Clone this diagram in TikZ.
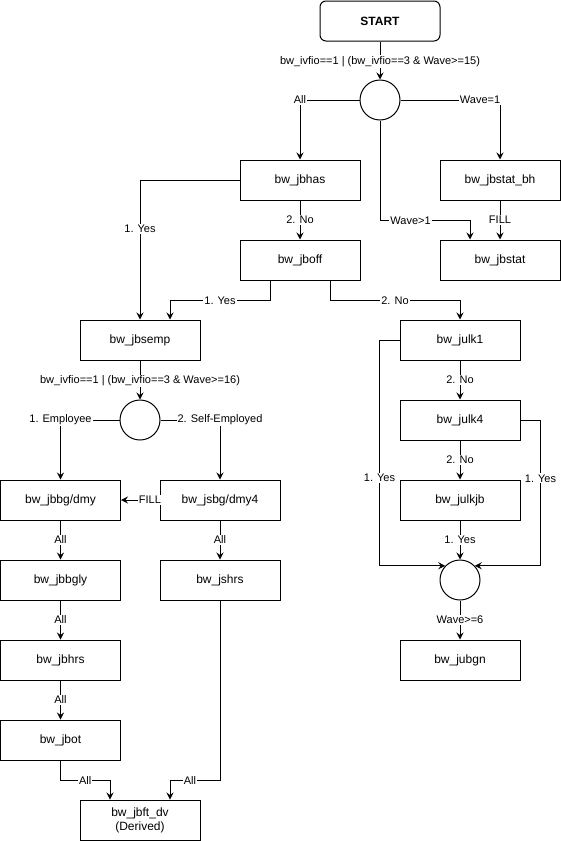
\documentclass[tikz,border=0pt]{standalone}
\usepackage{fontspec}
\setmainfont{Liberation Sans}
\usetikzlibrary{arrows.meta}

\begin{document}
\begin{tikzpicture}[x=1pt,y=-1pt,
  line width=1pt,
  box/.style={draw,rectangle,minimum width=120pt,minimum height=40pt,inner sep=2pt,
    align=center,font=\fontsize{12}{14}\selectfont},
  startbox/.style={box,rounded corners=6pt,font=\fontsize{12}{14}\selectfont\bfseries},
  junction/.style={draw,circle,minimum size=40pt,inner sep=0pt},
  lbl/.style={fill=white,inner sep=1pt,font=\fontsize{11}{13}\selectfont},
  flow/.style={-{Stealth[length=7pt,width=7pt,inset=2.5pt]}}
]
\useasboundingbox (0,0) rectangle (561,841);

% decision nodes and junctions
\node[startbox] (start) at (380,21) {START};
\node[junction] (c1) at (380,100) {};
\node[box] (jbhas) at (300,180) {bw\_jbhas};
\node[box] (jbstatbh) at (500,180) {bw\_jbstat\_bh};
\node[box] (jboff) at (300,260) {bw\_jboff};
\node[box] (jbstat) at (500,260) {bw\_jbstat};
\node[box] (jbsemp) at (140,340) {bw\_jbsemp};
\node[junction] (c2) at (140,420) {};
\node[box] (jbbg) at (60.5,500) {bw\_jbbg/dmy};
\node[box] (jsbg) at (220,500) {bw\_jsbg/dmy4};
\node[box] (jbbgly) at (60.5,580) {bw\_jbbgly};
\node[box] (jshrs) at (220,580) {bw\_jshrs};
\node[box] (jbhrs) at (60.5,660) {bw\_jbhrs};
\node[box] (jbot) at (60.5,740) {bw\_jbot};
\node[box] (jbft) at (140,820) {bw\_jbft\_dv\\(Derived)};
\node[box] (julk1) at (460,340) {bw\_julk1};
\node[box] (julk4) at (460,420) {bw\_julk4};
\node[box] (julkjb) at (460,500) {bw\_julkjb};
\node[junction] (c3) at (460,580) {};
\node[box] (jubgn) at (460,660) {bw\_jubgn};

% top branch
\draw[flow] (start.south) -- node[lbl,pos=0.53] {bw\_ivfio==1 | (bw\_ivfio==3 \& Wave>=15)} (c1.north);
\draw[flow] (c1.west) -| node[lbl,pos=0.5] {All} (jbhas.north);
\draw[flow] (c1.east) -| node[lbl,pos=0.4] {Wave=1} (jbstatbh.north);
\draw[flow] (c1.south) -- ++(0,100) -| node[lbl,pos=0.17] {Wave>1} ([xshift=-30pt]jbstat.north);
\draw[flow] (jbstatbh.south) -- node[lbl] {FILL} (jbstat.north);
\draw[flow] (jbhas.south) -- node[lbl] {2. No} (jboff.north);
\draw[flow] (jbhas.west) -| node[lbl,pos=0.675] {1. Yes} (jbsemp.north);
\draw[flow] ([xshift=-30pt]jboff.south) -- ++(0,20) -| node[lbl,pos=0.25] {1. Yes} ([xshift=30pt]jbsemp.north);
\draw[flow] ([xshift=30pt]jboff.south) -- ++(0,20) -| node[lbl,pos=0.25] {2. No} (julk1.north);

% employment branch
\draw[flow] (jbsemp.south) -- node[lbl,pos=0.52] {bw\_ivfio==1 | (bw\_ivfio==3 \& Wave>=16)} (c2.north);
\draw[flow] (c2.west) -| node[lbl,pos=0.5] {1. Employee} (jbbg.north);
\draw[flow] (c2.east) -| node[lbl,pos=0.5] {2. Self-Employed} (jsbg.north);
\draw[flow] (jsbg.west) -- node[lbl,pos=0.25] {FILL} (jbbg.east);
\draw[flow] (jbbg.south) -- node[lbl] {All} (jbbgly.north);
\draw[flow] (jsbg.south) -- node[lbl] {All} (jshrs.north);
\draw[flow] (jbbgly.south) -- node[lbl] {All} (jbhrs.north);
\draw[flow] (jbhrs.south) -- node[lbl] {All} (jbot.north);
\draw[flow] (jbot.south) -- ++(0,20) -| node[lbl,pos=0.25] {All} ([xshift=-30pt]jbft.north);
\draw[flow] (jshrs.south) -- ++(0,180) -| node[lbl,pos=0.3] {All} ([xshift=30pt]jbft.north);

% unemployment branch
\draw[flow] (julk1.south) -- node[lbl] {2. No} (julk4.north);
\draw[flow] (julk4.south) -- node[lbl] {2. No} (julkjb.north);
\draw[flow] (julkjb.south) -- node[lbl] {1. Yes} (c3.north);
\draw[flow] (c3.south) -- node[lbl] {Wave>=6} (jubgn.north);
\draw[flow] (julk1.west) -- ++(-20,0) |- node[lbl,pos=0.305] {1. Yes} (c3.136);
\draw[flow] (julk4.east) -- ++(20,0) |- node[lbl,pos=0.2] {1. Yes} (c3.44);
\end{tikzpicture}
\end{document}
